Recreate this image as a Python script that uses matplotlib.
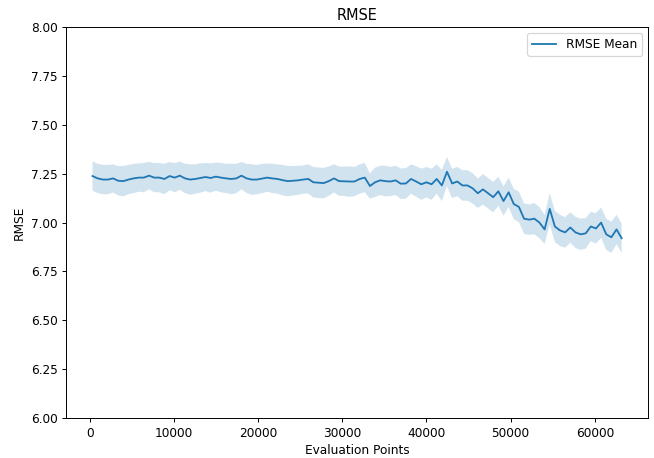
import numpy as np
import matplotlib.pyplot as plt

# evaluation grid (start, step)
x_start = 350
x_step = 610

rmse_mean = [
    7.238, 7.226, 7.22, 7.22, 7.226, 7.214, 7.212, 7.22, 7.226, 7.23, 7.23, 7.24, 7.23, 7.23, 7.223, 7.238,
    7.23, 7.24, 7.226, 7.22, 7.223, 7.228, 7.233, 7.228, 7.235, 7.23, 7.226, 7.223, 7.226, 7.24, 7.226, 7.22, 7.22,
    7.225, 7.23, 7.226, 7.223, 7.217, 7.212, 7.214, 7.216, 7.22, 7.223, 7.206, 7.204, 7.202, 7.212, 7.226, 7.212,
    7.211, 7.21, 7.21,
    7.223, 7.23, 7.187, 7.206, 7.216, 7.212, 7.21, 7.216, 7.199, 7.2, 7.223, 7.21, 7.196, 7.206, 7.196, 7.223,
    7.19, 7.26,
    7.20, 7.21, 7.19, 7.19, 7.175, 7.15, 7.17, 7.15, 7.13, 7.16, 7.11, 7.155, 7.095, 7.08, 7.02, 7.015, 7.02,
    7.00, 6.965,
    7.07, 6.98, 6.96, 6.95, 6.975, 6.95, 6.94, 6.945, 6.98, 6.97, 7.00, 6.94, 6.925, 6.965, 6.92,
]

rmse_std = [
    0.075, 0.075, 0.075, 0.075, 0.072, 0.075, 0.078, 0.075, 0.075, 0.072, 0.075, 0.07, 0.075, 0.075, 0.078, 0.072,
    0.075, 0.072, 0.075, 0.078, 0.075, 0.075, 0.072, 0.075, 0.072, 0.075, 0.075, 0.078, 0.075, 0.07, 0.075, 0.078, 0.075,
    0.075, 0.072, 0.075, 0.075, 0.078, 0.078, 0.075, 0.075, 0.072, 0.075, 0.078, 0.078, 0.078, 0.075, 0.072, 0.075,
    0.075, 0.078, 0.075,
    0.075, 0.075, 0.065, 0.075, 0.075, 0.078, 0.075, 0.075, 0.078, 0.078, 0.075, 0.078, 0.08, 0.078, 0.08, 0.075,
    0.08, 0.075,
    0.075, 0.075, 0.078, 0.078, 0.078, 0.075, 0.078, 0.078, 0.078, 0.075, 0.075, 0.075, 0.078, 0.078, 0.078, 0.078, 0.08,
    0.08, 0.075,
    0.08, 0.08, 0.08, 0.078, 0.078, 0.08, 0.08, 0.078, 0.075, 0.078, 0.078, 0.08, 0.08, 0.075, 0.075,
]

x = x_start + x_step * np.arange(len(rmse_mean))
mean = np.array(rmse_mean)
std = np.array(rmse_std)

# reference looks like a default figure scaled down ~0.87, so render at 87 dpi
fig = plt.figure(figsize=(654 / 87, 458 / 87), dpi=87)
ax = fig.add_axes([0.101, 0.087, 0.89, 0.854])
ax.plot(x, mean, label='RMSE Mean')
ax.fill_between(x, mean - std, mean + std, alpha=0.2)
ax.set_ylim(6, 8)
ax.set_yticks(np.arange(6, 8.01, 0.25))
ax.set_yticklabels([f'{v:.2f}' for v in np.arange(6, 8.01, 0.25)])
ax.set_title('RMSE')
ax.set_xlabel('Evaluation Points')
ax.set_ylabel('RMSE')
ax.legend(loc='upper right')
plt.savefig('out.png', dpi=87)
